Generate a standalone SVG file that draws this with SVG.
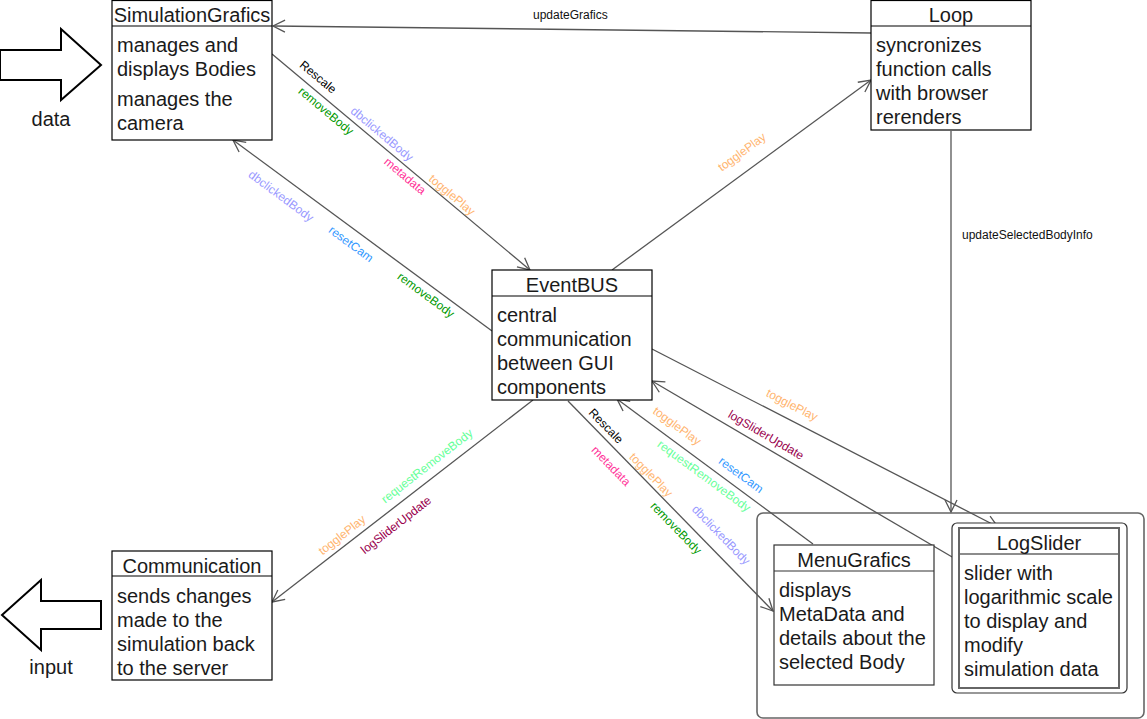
<svg xmlns="http://www.w3.org/2000/svg" width="1147" height="719" viewBox="0 0 1147 719">
<style>
text{font-family:"Liberation Sans",Arial,sans-serif}
.box{fill:#fff;stroke:#000;stroke-width:1.2}
.t{font-size:20px;fill:#1a1a1a}
.c{text-anchor:middle}
.e{fill:none;stroke:#555;stroke-width:1.3;marker-end:url(#ah)}
.l{font-size:12px;text-anchor:middle;dominant-baseline:central}
.h{font-size:12px;fill:#111}
.blk{fill:#fff;stroke:#000;stroke-width:2}
</style>
<defs>
<marker id="ah" markerWidth="16" markerHeight="16" refX="13" refY="8" orient="auto" markerUnits="userSpaceOnUse">
<path d="M1,2 L13,8 L1,14" fill="none" stroke="#555" stroke-width="1.3"/>
</marker>
</defs>
<rect width="1147" height="719" fill="#fff"/>

<g id="data-arrow">
<polygon class="blk" points="0,50 61,50 61,29 101,65 61,100 61,80 0,80"/>
<text class="t c" x="51" y="126">data</text>
</g>
<g id="input-arrow">
<polygon class="blk" points="101,601 41,601 41,580 2,615 41,650 41,629 101,629"/>
<text class="t c" x="51" y="674">input</text>
</g>

<g id="container">
<rect x="757" y="513" width="387" height="205" rx="6" fill="#fff" stroke="#666" stroke-width="1.6"/>
</g>

<g id="connectors">
<line class="e" x1="871" y1="33" x2="273" y2="26"/>
<line class="e" x1="272" y1="54" x2="530" y2="270"/>
<line class="e" x1="492" y1="331" x2="233" y2="140"/>
<line class="e" x1="612" y1="270" x2="871" y2="80"/>
<line class="e" x1="951" y1="131" x2="951" y2="512"/>
<line class="e" x1="652" y1="349" x2="998" y2="527"/>
<line class="e" x1="959" y1="561" x2="652" y2="381"/>
<line class="e" x1="813" y1="544" x2="617" y2="399"/>
<line class="e" x1="568" y1="401" x2="773" y2="611"/>
<line class="e" x1="533" y1="400" x2="272" y2="602"/>

<text class="h" x="533" y="19">updateGrafics</text>
<text class="h" x="962" y="239">updateSelectedBodyInfo</text>

<text class="l" fill="#000" transform="translate(318,77) rotate(40)">Rescale</text>
<text class="l" fill="#009900" transform="translate(326,111) rotate(40)">removeBody</text>
<text class="l" fill="#9999FF" transform="translate(382,134) rotate(40)">dbclickedBody</text>
<text class="l" fill="#FF3399" transform="translate(405,176) rotate(40)">metadata</text>
<text class="l" fill="#FFB570" transform="translate(452,195) rotate(40)">togglePlay</text>

<text class="l" fill="#9999FF" transform="translate(281,196) rotate(36.5)">dbclickedBody</text>
<text class="l" fill="#3399FF" transform="translate(351,244) rotate(36.5)">resetCam</text>
<text class="l" fill="#009900" transform="translate(426,295) rotate(36.5)">removeBody</text>

<text class="l" fill="#FFB570" transform="translate(742,152) rotate(-36.3)">togglePlay</text>

<text class="l" fill="#FFB570" transform="translate(792,405) rotate(27.2)">togglePlay</text>
<text class="l" fill="#99004D" transform="translate(766,435) rotate(30.4)">logSliderUpdate</text>

<text class="l" fill="#FFB570" transform="translate(677,426) rotate(36.3)">togglePlay</text>
<text class="l" fill="#66FF99" transform="translate(704,476) rotate(36.3)">requestRemoveBody</text>
<text class="l" fill="#3399FF" transform="translate(741,475) rotate(36.3)">resetCam</text>

<text class="l" fill="#000" transform="translate(606,426) rotate(45.8)">Rescale</text>
<text class="l" fill="#FF3399" transform="translate(611,466) rotate(45.8)">metadata</text>
<text class="l" fill="#FFB570" transform="translate(651,475) rotate(45.8)">togglePlay</text>
<text class="l" fill="#009900" transform="translate(676,528) rotate(45.8)">removeBody</text>
<text class="l" fill="#9999FF" transform="translate(721,535) rotate(45.8)">dbclickedBody</text>

<text class="l" fill="#66FF99" transform="translate(427,466) rotate(-38)">requestRemoveBody</text>
<text class="l" fill="#FFB570" transform="translate(342,535) rotate(-38)">togglePlay</text>
<text class="l" fill="#99004D" transform="translate(396,525) rotate(-38)">logSliderUpdate</text>
</g>

<g id="SimulationGrafics">
<rect class="box" x="112" y="0.5" width="160" height="139.5"/>
<line x1="112" y1="26" x2="272" y2="26" stroke="#000" stroke-width="1.2"/>
<text class="t c" x="192" y="22">SimulationGrafics</text>
<text class="t" x="117" y="52">manages and</text>
<text class="t" x="117" y="76">displays Bodies</text>
<text class="t" x="117" y="106">manages the</text>
<text class="t" x="117" y="130">camera</text>
</g>

<g id="Loop">
<rect class="box" x="871" y="0.5" width="160" height="129.5"/>
<line x1="871" y1="26" x2="1031" y2="26" stroke="#000" stroke-width="1.2"/>
<text class="t c" x="951" y="22">Loop</text>
<text class="t" x="876" y="52">syncronizes</text>
<text class="t" x="876" y="76">function calls</text>
<text class="t" x="876" y="100">with browser</text>
<text class="t" x="876" y="124">rerenders</text>
</g>

<g id="EventBUS">
<rect class="box" x="492" y="270" width="160" height="130"/>
<line x1="492" y1="296" x2="652" y2="296" stroke="#000" stroke-width="1.2"/>
<text class="t c" x="572" y="292">EventBUS</text>
<text class="t" x="497" y="322">central</text>
<text class="t" x="497" y="346">communication</text>
<text class="t" x="497" y="370">between GUI</text>
<text class="t" x="497" y="394">components</text>
</g>

<g id="Communication">
<rect class="box" x="112" y="551" width="160" height="129"/>
<line x1="112" y1="576" x2="272" y2="576" stroke="#000" stroke-width="1.2"/>
<text class="t c" x="192" y="573">Communication</text>
<text class="t" x="117" y="603">sends changes</text>
<text class="t" x="117" y="627">made to the</text>
<text class="t" x="117" y="651">simulation back</text>
<text class="t" x="117" y="675">to the server</text>
</g>

<g id="MenuGrafics">
<rect x="774" y="545" width="160" height="140" fill="#fff" stroke="#333" stroke-width="1.2"/>
<line x1="774" y1="571" x2="934" y2="571" stroke="#333" stroke-width="1.2"/>
<text class="t c" x="854" y="567">MenuGrafics</text>
<text class="t" x="779" y="597">displays</text>
<text class="t" x="779" y="621">MetaData and</text>
<text class="t" x="779" y="645">details about the</text>
<text class="t" x="779" y="669">selected Body</text>
</g>

<g id="LogSlider">
<rect x="952" y="523" width="175" height="170" rx="5" fill="#fff" stroke="#333" stroke-width="1.2"/>
<rect x="959" y="528" width="160" height="160" fill="#fff" stroke="#666" stroke-width="2"/>
<line x1="959" y1="554" x2="1119" y2="554" stroke="#666" stroke-width="1.5"/>
<text class="t c" x="1039" y="550">LogSlider</text>
<text class="t" x="964" y="580">slider with</text>
<text class="t" x="964" y="604">logarithmic scale</text>
<text class="t" x="964" y="628">to display and</text>
<text class="t" x="964" y="652">modify</text>
<text class="t" x="964" y="676">simulation data</text>
</g>
</svg>
